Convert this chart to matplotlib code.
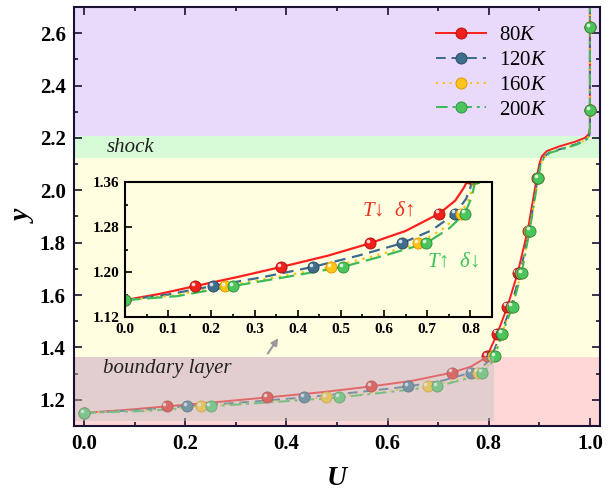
import matplotlib
matplotlib.use("Agg")
import matplotlib.pyplot as plt
import matplotlib.transforms as transforms
from matplotlib.lines import Line2D
from matplotlib.patches import Rectangle
from matplotlib.ticker import MultipleLocator

plt.rcParams["font.family"] = ["Liberation Serif", "DejaVu Serif"]
plt.rcParams["mathtext.fontset"] = "custom"
plt.rcParams["mathtext.rm"] = "Liberation Serif"
plt.rcParams["mathtext.it"] = "Liberation Serif:italic"
plt.rcParams["mathtext.bf"] = "Liberation Serif:bold"

# marker positions (same y grid for every temperature)
y_mk = [1.150, 1.175, 1.209, 1.251, 1.304, 1.368, 1.453, 1.556, 1.683, 1.846, 2.048, 2.305, 2.622]
u_mk_80 = [0.0, 0.163, 0.362, 0.567, 0.728, 0.797, 0.817, 0.837, 0.857, 0.877, 0.895, 1.0, 1.0]
u_mk_120 = [0.0, 0.203, 0.435, 0.641, 0.765, 0.806, 0.824, 0.844, 0.862, 0.880, 0.897, 1.0, 1.0]
u_mk_160 = [0.0, 0.232, 0.478, 0.679, 0.778, 0.809, 0.826, 0.846, 0.864, 0.880, 0.898, 1.0, 1.0]
u_mk_200 = [0.0, 0.250, 0.504, 0.697, 0.787, 0.812, 0.827, 0.847, 0.865, 0.881, 0.898, 1.0, 1.0]

# profile lines
u_ln_80 = [0.0, 0.08, 0.163, 0.26, 0.362, 0.47, 0.567, 0.65, 0.728, 0.765, 0.785, 0.797,
           0.817, 0.837, 0.857, 0.877, 0.895, 0.900, 0.905, 0.915, 0.94, 0.97, 0.99, 0.998, 1.0, 1.0]
y_ln_80 = [1.150, 1.161, 1.175, 1.191, 1.209, 1.229, 1.251, 1.273, 1.304, 1.327, 1.350, 1.368,
           1.453, 1.556, 1.683, 1.846, 2.048, 2.100, 2.130, 2.150, 2.168, 2.185, 2.200, 2.215, 2.240, 2.700]
u_ln_120 = [0.0, 0.10, 0.203, 0.32, 0.435, 0.54, 0.641, 0.71, 0.765, 0.790, 0.800, 0.806,
            0.824, 0.844, 0.862, 0.880, 0.897, 0.902, 0.908, 0.920, 0.950, 0.975, 0.993, 0.999, 1.0, 1.0]
y_ln_120 = [1.150, 1.160, 1.175, 1.191, 1.209, 1.229, 1.251, 1.274, 1.304, 1.330, 1.350, 1.368,
            1.453, 1.556, 1.683, 1.846, 2.048, 2.100, 2.125, 2.145, 2.162, 2.178, 2.195, 2.210, 2.240, 2.700]
u_ln_160 = [0.0, 0.11, 0.232, 0.36, 0.478, 0.58, 0.679, 0.735, 0.778, 0.798, 0.805, 0.809,
            0.826, 0.846, 0.864, 0.880, 0.898, 0.903, 0.909, 0.921, 0.951, 0.976, 0.993, 0.999, 1.0, 1.0]
y_ln_160 = [1.150, 1.158, 1.175, 1.192, 1.209, 1.229, 1.251, 1.276, 1.304, 1.332, 1.352, 1.368,
            1.453, 1.556, 1.683, 1.846, 2.048, 2.100, 2.124, 2.144, 2.161, 2.177, 2.194, 2.210, 2.240, 2.700]
u_ln_200 = [0.0, 0.12, 0.250, 0.38, 0.504, 0.60, 0.697, 0.750, 0.787, 0.803, 0.809, 0.812,
            0.827, 0.847, 0.865, 0.881, 0.898, 0.903, 0.909, 0.921, 0.951, 0.976, 0.993, 0.999, 1.0, 1.0]
y_ln_200 = [1.150, 1.157, 1.175, 1.192, 1.209, 1.229, 1.251, 1.277, 1.304, 1.333, 1.354, 1.368,
            1.453, 1.556, 1.683, 1.846, 2.048, 2.100, 2.123, 2.143, 2.160, 2.176, 2.193, 2.210, 2.240, 2.700]

labels = ["80$K$", "120$K$", "160$K$", "200$K$"]
line_colors = ["#ff1f1f", "#3d6a8e", "#ffc000", "#3dbb5a"]
ball_colors = ["#f0201c", "#3f6e8c", "#ffc31a", "#4cc45c"]
ball_edges = ["#a81010", "#27465c", "#d89400", "#2c8a3c"]
styles = ["-", (0, (5, 3)), (0, (1, 2.5)), (0, (6, 2.5, 1.5, 2.5))]
inset_styles = ["-", (0, (5, 3)), (0, (1, 2.5)), (0, (7, 3))]

u_lines = [u_ln_80, u_ln_120, u_ln_160, u_ln_200]
y_lines = [y_ln_80, y_ln_120, y_ln_160, y_ln_200]
u_marks = [u_mk_80, u_mk_120, u_mk_160, u_mk_200]

fig = plt.figure(figsize=(6.12, 4.95), dpi=100)
ax = fig.add_axes([0.1209, 0.1394, 0.8595, 0.8465])
ax.set_xlim(-0.02, 1.02)
ax.set_ylim(1.1, 2.7)

# background regions
ax.axhspan(2.207, 2.7, color="#e9d9fb", lw=0, zorder=0)
ax.axhspan(2.125, 2.207, color="#d6fbd6", lw=0, zorder=0)
ax.axhspan(1.362, 2.125, color="#fffee0", lw=0, zorder=0)
ax.axhspan(1.1, 1.362, color="#ffd7d7", lw=0, zorder=0)


def balls(a, u, y, color, edge, size, z):
    a.plot(u, y, "o", ms=size, mfc=color, mec=edge, mew=0.6, ls="none", zorder=z)
    hl = transforms.offset_copy(a.transData, fig=a.figure, x=-1.5, y=1.6, units="points")
    a.plot(u, y, "o", ms=size * 0.33, mfc="white", mec="none", alpha=0.8, ls="none",
           transform=hl, zorder=z + 0.1)


for i in range(4):
    ax.plot(u_lines[i], y_lines[i], color=line_colors[i], ls=styles[i], lw=1.4, zorder=3)
for i in range(4):
    balls(ax, u_marks[i], y_mk, ball_colors[i], ball_edges[i], 8, 4 + i * 0.2)

# boundary layer overlay
ax.add_patch(Rectangle((-0.02, 1.12), 0.83, 0.242, facecolor="#bfc4c4", alpha=0.45,
                       edgecolor="none", zorder=5))

ax.text(0.045, 2.163, "shock", style="italic", fontsize=15, va="center", color="#222222")
ax.text(0.038, 1.319, "boundary layer", style="italic", fontsize=15, va="center",
        color="#222222", zorder=6)
ax.annotate("", xy=(0.387, 1.444), xytext=(0.36, 1.368),
            arrowprops=dict(arrowstyle="-|>", color="#999999", lw=1.5), zorder=6)

ax.xaxis.set_major_locator(MultipleLocator(0.2))
ax.xaxis.set_minor_locator(MultipleLocator(0.1))
ax.yaxis.set_major_locator(MultipleLocator(0.2))
ax.yaxis.set_minor_locator(MultipleLocator(0.1))
ax.tick_params(which="both", direction="in", top=True, right=True, width=1.2, color="#1a1030")
ax.tick_params(which="major", length=6, labelsize=15, pad=6)
ax.tick_params(which="minor", length=3)
for lab in ax.get_xticklabels() + ax.get_yticklabels():
    lab.set_fontweight("bold")
for sp in ax.spines.values():
    sp.set_linewidth(1.5)
    sp.set_color("#1a1030")
    sp.set_zorder(10)

ax.set_xlabel("U", fontsize=20, fontweight="bold", style="italic")
ax.set_ylabel("y", fontsize=20, fontweight="bold", style="italic")
ax.xaxis.set_label_coords(0.5, -0.095)
ax.yaxis.set_label_coords(-0.07, 0.5)

handles = [Line2D([], [], color=line_colors[i], ls=styles[i], lw=1.4, marker="o", ms=8,
                  mfc=ball_colors[i], mec=ball_edges[i], mew=0.6) for i in range(4)]
ax.legend(handles, labels, loc="upper right", bbox_to_anchor=(0.935, 1.0), frameon=False,
          fontsize=15, handlelength=2.4, labelspacing=0.25, handletextpad=0.6)

# inset zoom on the boundary layer
axi = fig.add_axes([0.2042, 0.3596, 0.5997, 0.2727])
axi.set_facecolor("#fffee0")
axi.set_xlim(0, 0.85)
axi.set_ylim(1.12, 1.36)
for i in range(4):
    axi.plot(u_lines[i], y_lines[i], color=line_colors[i], ls=inset_styles[i], lw=1.6, zorder=3)
for i in range(4):
    balls(axi, u_marks[i], y_mk, ball_colors[i], ball_edges[i], 8, 4 + i * 0.2)

axi.xaxis.set_major_locator(MultipleLocator(0.1))
axi.xaxis.set_minor_locator(MultipleLocator(0.05))
axi.yaxis.set_major_locator(MultipleLocator(0.08))
axi.yaxis.set_minor_locator(MultipleLocator(0.04))
axi.tick_params(which="both", direction="in", width=1.2, color="black")
axi.tick_params(which="major", length=5, labelsize=11, pad=4)
axi.tick_params(which="minor", length=2.5)
axi.set_yticks([1.12, 1.20, 1.28, 1.36])
axi.set_yticklabels(["1.12", "1.20", "1.28", "1.36"])
for lab in axi.get_xticklabels() + axi.get_yticklabels():
    lab.set_fontweight("bold")
for sp in axi.spines.values():
    sp.set_linewidth(1.5)
    sp.set_color("black")
    sp.set_zorder(10)

axi.text(0.549, 1.308, r"$T$↓  $\delta$↑", color="#e8321e", fontsize=15, va="center")
axi.text(0.699, 1.218, r"$T$↑  $\delta$↓", color="#3fc25a", fontsize=15, va="center")

fig.savefig("out.png", dpi=100)
